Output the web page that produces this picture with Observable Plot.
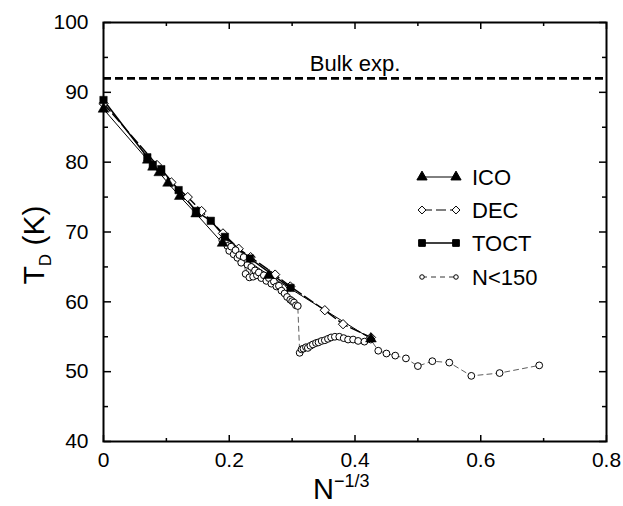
<!DOCTYPE html>
<html>
<head>
<meta charset="utf-8">
<script src="https://cdn.jsdelivr.net/npm/d3@7"></script>
<script src="https://cdn.jsdelivr.net/npm/@observablehq/plot@0.6"></script>
<style>
  body { margin: 0; background: #fff; }
  svg { font-family: "Liberation Sans", Arial, Helvetica, sans-serif; }
</style>
</head>
<body>
<div id="chart"></div>
<script>
// ---- data ----
const icoX = [0, 0.0704, 0.0787, 0.0887, 0.1027, 0.1213, 0.1474, 0.1894, 0.2630, 0.4254];
const icoY = [87.6, 80.3, 79.3, 78.5, 77.0, 75.1, 72.6, 68.4, 63.8, 54.7];

const decX = [0, 0.0850, 0.1080, 0.1340, 0.1560, 0.1900, 0.2150, 0.2340, 0.2730, 0.2970, 0.3520, 0.3810, 0.4254];
const decY = [88.4, 79.6, 77.1, 75.0, 73.0, 69.8, 67.6, 66.4, 63.9, 62.2, 58.8, 56.8, 54.9];

const toctX = [0, 0.0697, 0.0784, 0.0919, 0.1195, 0.1471, 0.1707, 0.1931, 0.2330, 0.2974];
const toctY = [88.9, 80.7, 79.6, 79.0, 76.0, 73.0, 71.6, 69.3, 66.2, 62.0];

const smallX = [0.189, 0.193, 0.197, 0.200, 0.203, 0.207, 0.210, 0.213, 0.216, 0.219, 0.223, 0.226, 0.229, 0.232, 0.235, 0.238, 0.241, 0.244, 0.247, 0.251, 0.255, 0.259, 0.263, 0.267, 0.271, 0.275, 0.279, 0.283, 0.288, 0.292, 0.297, 0.300, 0.303, 0.306, 0.309,
  0.312, 0.315, 0.318, 0.322, 0.325, 0.329, 0.333, 0.338, 0.342, 0.347, 0.352, 0.357, 0.362, 0.368, 0.375, 0.382, 0.389, 0.397, 0.405, 0.415, 0.425,
  0.437, 0.450, 0.464, 0.481, 0.500, 0.523, 0.550, 0.585, 0.630, 0.693];
const smallY = [68.8, 68.6, 68.0, 67.3, 67.9, 66.8, 67.4, 66.3, 66.7, 65.6, 66.4, 64.0, 65.3, 63.5, 65.0, 63.6, 64.5, 63.8, 64.2, 63.4, 63.8, 63.0, 63.4, 62.6, 62.9, 62.2, 62.3, 61.6, 61.2, 60.7, 60.3, 60.1, 59.9, 59.5, 59.4,
  52.7, 53.2, 53.3, 53.5, 53.4, 53.7, 53.9, 54.1, 54.2, 54.4, 54.5, 54.7, 54.9, 55.0, 55.0, 54.8, 54.6, 54.6, 54.4, 54.3, 54.6,
  53.0, 52.6, 52.3, 51.9, 50.8, 51.5, 51.3, 49.4, 49.8, 50.9];

const bulkT = 92;
const bulkLabel = "Bulk exp.";

const xMajor = [0, 0.2, 0.4, 0.6, 0.8];
const xMinor = [0.1, 0.3, 0.5, 0.7];
const yMajor = [40, 50, 60, 70, 80, 90, 100];
const yMinor = [45, 55, 65, 75, 85, 95];
const xTickLabels = ["0", "0.2", "0.4", "0.6", "0.8"];

const seriesNames = ["ICO", "DEC", "TOCT", "N<150"];

// build tables
const zip = (xs, ys) => xs.map((x, i) => ({x, y: ys[i]}));
const ico = zip(icoX, icoY);
const dec = zip(decX, decY);
const toct = zip(toctX, toctY);
const small = zip(smallX, smallY);

const W = 623, H = 506;
const mL = 103, mR = 17, mT = 22, mB = 65;
const fw = W - mL - mR, fh = H - mT - mB;
const blank = () => "";

// inward ticks: an axis anchored on the opposite side, shifted across the frame
const inwardTicks = [];
[[xMajor, 7], [xMinor, 4]].forEach(([t, len]) => {
  inwardTicks.push(Plot.axisX({ticks: t, anchor: "top", tickSize: len, dy: fh, tickFormat: blank, strokeWidth: 1.5}));
  inwardTicks.push(Plot.axisX({ticks: t, anchor: "bottom", tickSize: len, dy: -fh, tickFormat: blank, strokeWidth: 1.5}));
});
[[yMajor, 7], [yMinor, 4]].forEach(([t, len]) => {
  inwardTicks.push(Plot.axisY({ticks: t, anchor: "right", tickSize: len, dx: -fw, tickFormat: blank, strokeWidth: 1.5}));
  inwardTicks.push(Plot.axisY({ticks: t, anchor: "left", tickSize: len, dx: fw, tickFormat: blank, strokeWidth: 1.5}));
});

const svg = Plot.plot({
  width: W, height: H,
  marginLeft: mL, marginRight: mR, marginTop: mT, marginBottom: mB,
  x: {domain: [0, 0.8], label: null},
  y: {domain: [40, 100], label: null},
  style: {fontFamily: '"Liberation Sans", Arial, sans-serif', background: "white", color: "black"},
  marks: [
    ...inwardTicks,
    Plot.axisX({ticks: xMajor, anchor: "bottom", tickSize: 0, tickPadding: 11, fontSize: 21,
      tickFormat: d => xTickLabels[xMajor.indexOf(d)]}),
    Plot.axisY({ticks: yMajor, anchor: "left", tickSize: 0, tickPadding: 15, fontSize: 21}),
    // bulk experimental value
    Plot.ruleY([bulkT], {stroke: "black", strokeWidth: 2.6, strokeDasharray: "8,4"}),
    Plot.text([bulkLabel], {frameAnchor: "top", lineAnchor: "middle", dy: 41, text: d => d, fontSize: 22, fill: "black"}),
    // lines
    Plot.line(small, {x: "x", y: "y", stroke: "#333", strokeWidth: 0.8, strokeDasharray: "5,4"}),
    Plot.line(ico, {x: "x", y: "y", stroke: "black", strokeWidth: 1}),
    Plot.line(dec, {x: "x", y: "y", stroke: "black", strokeWidth: 1.4, strokeDasharray: "10,4"}),
    Plot.line(toct, {x: "x", y: "y", stroke: "black", strokeWidth: 1.5}),
    // markers
    Plot.dot(dec, {x: "x", y: "y", symbol: "diamond2", r: 4.2, fill: "white", stroke: "black", strokeWidth: 1}),
    Plot.dot(small, {x: "x", y: "y", symbol: "circle", r: 3.4, fill: "white", stroke: "black", strokeWidth: 1}),
    Plot.dot(ico, {x: "x", y: "y", symbol: "triangle", r: 4, fill: "black", stroke: "black", strokeWidth: 0.5}),
    Plot.dot(toct, {x: "x", y: "y", symbol: "square", r: 4.2, fill: "black", stroke: "black", strokeWidth: 0.5}),
    Plot.frame({stroke: "black", strokeWidth: 2})
  ]
});

const s = d3.select(svg);

// axis titles
const xt = s.append("text").attr("x", 313).attr("y", 499).attr("fill", "black")
  .attr("text-anchor", "start").style("font-size", "29px");
xt.append("tspan").text("N");
xt.append("tspan").attr("dy", -12).style("font-size", "18px").text("\u22121/3");

const yt = s.append("text").attr("transform", "translate(44,245) rotate(-90)")
  .attr("text-anchor", "middle").attr("fill", "black").style("font-size", "30px");
yt.append("tspan").text("T");
yt.append("tspan").attr("dy", 7).style("font-size", "17px").text("D");
yt.append("tspan").attr("dy", -7).text(" (K)");

// legend
const legendRows = [
  {name: seriesNames[0], y: 177, sym: d3.symbolTriangle, size: 45, fill: "black", dash: null, w: 1},
  {name: seriesNames[1], y: 210, sym: d3.symbolDiamond2, size: 40, fill: "white", dash: "10,4", w: 1.2},
  {name: seriesNames[2], y: 243, sym: d3.symbolSquare, size: 45, fill: "black", dash: null, w: 1.3},
  {name: seriesNames[3], y: 277, sym: d3.symbolCircle, size: 16, fill: "white", dash: "5,4", w: 0.8}
];
const lx1 = 422, lx2 = 456, tx = 472;
const lg = s.append("g");
legendRows.forEach(r => {
  lg.append("line").attr("x1", lx1).attr("x2", lx2).attr("y1", r.y).attr("y2", r.y)
    .attr("stroke", "black").attr("stroke-width", r.w)
    .attr("stroke-dasharray", r.dash);
  [lx1, lx2].forEach(x => {
    lg.append("path").attr("d", d3.symbol(r.sym, r.size)())
      .attr("transform", `translate(${x},${r.y})`)
      .attr("fill", r.fill).attr("stroke", "black").attr("stroke-width", 1);
  });
  lg.append("text").attr("x", tx).attr("y", r.y).attr("dy", "0.35em")
    .attr("text-anchor", "start")
    .attr("fill", "black").style("font-size", "22px").text(r.name);
});

document.getElementById("chart").appendChild(svg);
</script>
</body>
</html>
